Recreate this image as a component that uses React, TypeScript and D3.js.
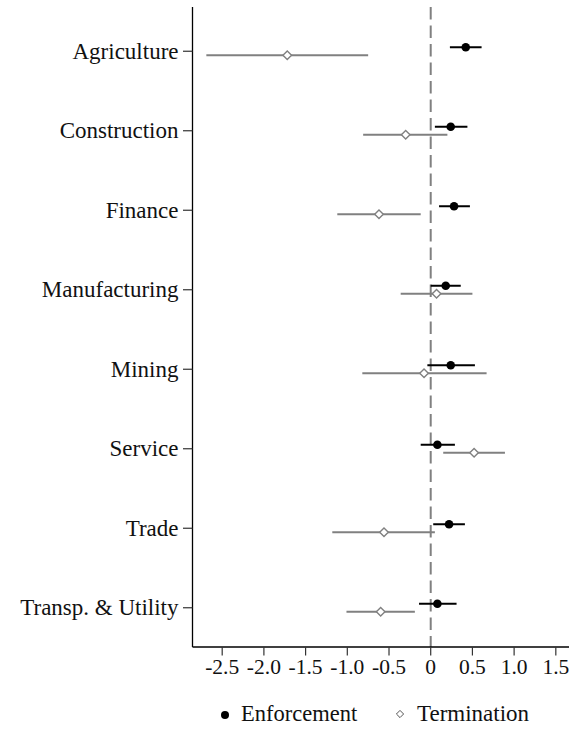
import React from "react";
import * as d3 from "d3";

const categories = [
  "Agriculture",
  "Construction",
  "Finance",
  "Manufacturing",
  "Mining",
  "Service",
  "Trade",
  "Transp. & Utility",
];

const enfEst = [0.42, 0.24, 0.28, 0.18, 0.24, 0.08, 0.22, 0.08];
const enfLow = [0.23, 0.05, 0.10, 0.0, -0.04, -0.12, 0.03, -0.14];
const enfHigh = [0.61, 0.44, 0.47, 0.36, 0.53, 0.29, 0.41, 0.31];

const termEst = [-1.72, -0.30, -0.62, 0.07, -0.08, 0.52, -0.56, -0.60];
const termLow = [-2.69, -0.81, -1.12, -0.36, -0.82, 0.15, -1.18, -1.01];
const termHigh = [-0.75, 0.20, -0.12, 0.50, 0.67, 0.89, 0.05, -0.19];

const xTicks = [-2.5, -2.0, -1.5, -1.0, -0.5, 0, 0.5, 1.0, 1.5];
const xTickLabels = ["-2.5", "-2.0", "-1.5", "-1.0", "-0.5", "0", "0.5", "1.0", "1.5"];

const legendLabels = ["Enforcement", "Termination"];

const W = 581;
const H = 732;
const left = 192.5;
const right = 569;
const top = 7;
const bottom = 647;

const FONT = "Liberation Serif";
const GRAY = "#808080";

export default function App() {
  const x = d3.scaleLinear().domain([-2.856, 1.658]).range([left, right]);
  const y = d3
    .scalePoint<string>()
    .domain(categories)
    .range([11.5, 647.5])
    .padding(0.5);

  const off = 4;
  const dm = 4.3;
  const diamond = (cx: number, cy: number, s: number) =>
    `M${cx},${cy - s}L${cx + s},${cy}L${cx},${cy + s}L${cx - s},${cy}Z`;
  const ts: React.CSSProperties = { fontFamily: FONT };

  return (
    <svg
      width={W}
      height={H}
      style={{ position: "absolute", left: 0, top: 0, background: "#fff" }}
    >
      {/* zero reference line */}
      <line
        x1={x(0)}
        x2={x(0)}
        y1={top}
        y2={bottom}
        stroke={GRAY}
        strokeWidth={2}
        strokeDasharray="12.5,6"
      />
      {/* axes */}
      <line x1={left} x2={left} y1={top} y2={bottom} stroke="#000" strokeWidth={1.3} />
      <line x1={left} x2={right} y1={bottom} y2={bottom} stroke="#000" strokeWidth={1.3} />
      {categories.map((c) => (
        <g key={c}>
          <line
            x1={left - 9.5}
            x2={left}
            y1={y(c)!}
            y2={y(c)!}
            stroke="#333"
            strokeWidth={1.2}
          />
          <text
            x={left - 14}
            y={y(c)!}
            dy="0.32em"
            textAnchor="end"
            fontSize={23}
            fill="#111"
            style={ts}
          >
            {c}
          </text>
        </g>
      ))}
      {xTicks.map((t, i) => (
        <g key={t}>
          <line
            x1={x(t)}
            x2={x(t)}
            y1={bottom}
            y2={bottom + 8.5}
            stroke="#333"
            strokeWidth={1.2}
          />
          <text
            x={x(t)}
            y={674}
            textAnchor="middle"
            fontSize={21.5}
            fill="#111"
            style={ts}
          >
            {xTickLabels[i]}
          </text>
        </g>
      ))}
      {/* termination */}
      {categories.map((c, i) => {
        const cy = y(c)! + off;
        return (
          <g key={"t" + c}>
            <line
              x1={x(termLow[i])}
              x2={x(termHigh[i])}
              y1={cy}
              y2={cy}
              stroke={GRAY}
              strokeWidth={2}
            />
            <path
              d={diamond(x(termEst[i]), cy, dm)}
              fill="#fff"
              stroke={GRAY}
              strokeWidth={1.4}
            />
          </g>
        );
      })}
      {/* enforcement */}
      {categories.map((c, i) => {
        const cy = y(c)! - off;
        return (
          <g key={"e" + c}>
            <line
              x1={x(enfLow[i])}
              x2={x(enfHigh[i])}
              y1={cy}
              y2={cy}
              stroke="#000"
              strokeWidth={2}
            />
            <circle cx={x(enfEst[i])} cy={cy} r={4.3} fill="#000" />
          </g>
        );
      })}
      {/* legend */}
      <circle cx={225} cy={715} r={4} fill="#000" />
      <text x={241} y={721} fontSize={22.5} fill="#111" style={ts}>
        {legendLabels[0]}
      </text>
      <path d={diamond(400, 714, 3.6)} fill="#fff" stroke="#555" strokeWidth={1} />
      <text x={417} y={721} fontSize={23} fill="#111" style={ts}>
        {legendLabels[1]}
      </text>
    </svg>
  );
}
